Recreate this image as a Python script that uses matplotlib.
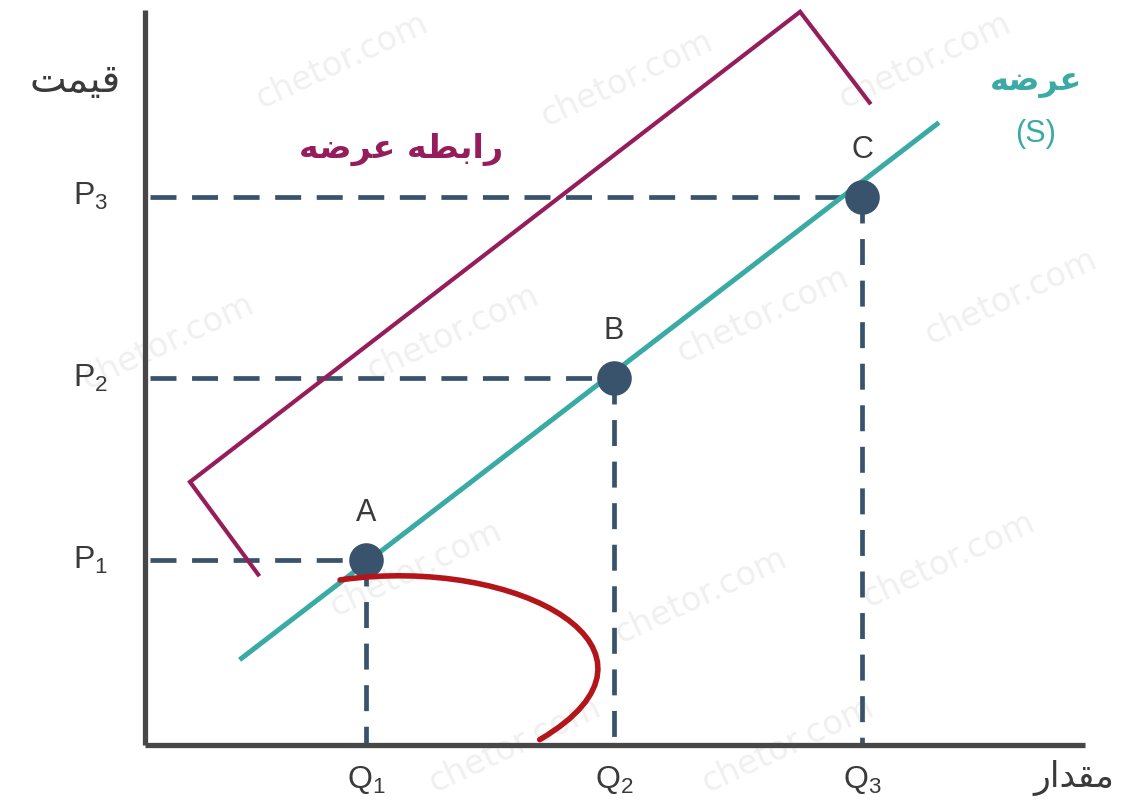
import numpy as np
import matplotlib.pyplot as plt
from matplotlib.path import Path
from matplotlib.patches import PathPatch

plt.rcParams['font.family'] = ['DejaVu Sans']
plt.rcParams['mathtext.default'] = 'regular'

# points on the supply curve (quantity, price)
point_names = ['A', 'B', 'C']
q_vals = [1, 2, 3]
p_vals = [1, 2, 3]
q_labels = ['Q$_1$', 'Q$_2$', 'Q$_3$']
p_labels = ['P$_1$', 'P$_2$', 'P$_3$']

# supply line S: P = Q
supply_q = [0.49, 3.31]
supply_p = [0.45, 3.41]

# maroon bracket around "supply relation"
bracket_q = [0.565, 0.29, 2.75, 3.03]
bracket_p = [0.92, 1.43, 4.02, 3.52]

# red hand-drawn arc (cubic bezier control points)
arc_q = [0.895, 1.62, 2.31, 1.70]
arc_p = [0.89, 1.03, 0.50, 0.01]

# Persian labels (presentation forms, visual order)
price_txt = '\uFE96\uFEE4\uFEF4\uFED7'                   # قیمت
qty_txt = '\uFEAD\uFE8D\uFEAA\uFED8\uFEE3'                 # مقدار
supply_txt = '\uFEEA\uFEBF\uFEAE\uFECB'                    # عرضه
relation_txt = supply_txt + ' ' + '\uFEEA\uFEC4\uFE91\uFE8D\uFEAD'  # رابطه عرضه

teal = '#3aaaa5'
dash_col = '#38536b'
maroon = '#951d5c'
red = '#b3151a'
axis_col = '#474747'
txt_col = '#3a3a3a'

fig = plt.figure(figsize=(11.25, 8.09), dpi=100)
ax = fig.add_axes([0, 0, 1, 1])
ax.set_xlim(-0.476, 4.06)
ax.set_ylim(-0.372, 4.085)
ax.axis('off')

# faint watermark
for wx, wy in [(0.9, 3.75), (2.05, 3.65), (3.25, 3.75), (0.2, 2.2),
               (1.35, 2.25), (2.6, 2.35), (3.6, 2.45), (1.2, 0.95),
               (2.35, 0.8), (3.35, 1.0), (1.6, -0.02), (2.7, -0.02)]:
    ax.text(wx, wy, 'chetor.com', fontsize=24, color='#f0f0f0', rotation=25,
            ha='center', va='center', zorder=0)

# axes
ax.plot([0.109, 0.109], [-0.02, 4.03], color=axis_col, lw=3.8, solid_capstyle='butt', zorder=3)
ax.plot([0.109, 3.90], [-0.02, -0.02], color=axis_col, lw=3.8, solid_capstyle='butt', zorder=3)

# guide lines
for q, p in zip(q_vals, p_vals):
    ax.plot([0.13, q], [p, p], color=dash_col, lw=3.4, dashes=(5.5, 3.3), zorder=2)
    ax.plot([q, q], [p, -0.02], color=dash_col, lw=3.4, dashes=(5.5, 3.3), zorder=2)

ax.plot(supply_q, supply_p, color=teal, lw=3.6, solid_capstyle='butt', zorder=4)
ax.scatter(q_vals, p_vals, s=620, color=dash_col, zorder=5, linewidths=0)

ax.plot(bracket_q, bracket_p, color=maroon, lw=3.0, solid_joinstyle='miter', zorder=4)

verts = list(zip(arc_q, arc_p))
arc = Path(verts, [Path.MOVETO, Path.CURVE4, Path.CURVE4, Path.CURVE4])
ax.add_patch(PathPatch(arc, fill=False, edgecolor=red, lw=4.0, capstyle='round', zorder=6))

for name, q, p in zip(point_names, q_vals, p_vals):
    ax.text(q, p + 0.26, name, fontsize=22, color=txt_col, ha='center', va='center',
            family='Liberation Sans', zorder=6)
for lab, q in zip(q_labels, q_vals):
    ax.text(q, -0.21, lab, fontsize=23, color=txt_col, ha='center', va='center',
            family='Liberation Sans')
for lab, p in zip(p_labels, p_vals):
    ax.text(-0.11, p, lab, fontsize=23, color=txt_col, ha='center', va='center',
            family='Liberation Sans')

ax.text(-0.175, 3.64, price_txt, fontsize=28, color=txt_col, ha='center', va='center')
ax.text(3.855, -0.2, qty_txt, fontsize=25, color=txt_col, ha='center', va='center')
ax.text(1.14, 3.26, relation_txt, fontsize=24, color=maroon, ha='center', va='center',
        fontweight='bold')
ax.text(3.70, 3.63, supply_txt, fontsize=23, color=teal, ha='center', va='center',
        fontweight='bold')
ax.text(3.70, 3.345, '(S)', fontsize=22, color=teal, ha='center', va='center',
        family='Liberation Sans')

fig.savefig('out.png', dpi=100, facecolor='white')
